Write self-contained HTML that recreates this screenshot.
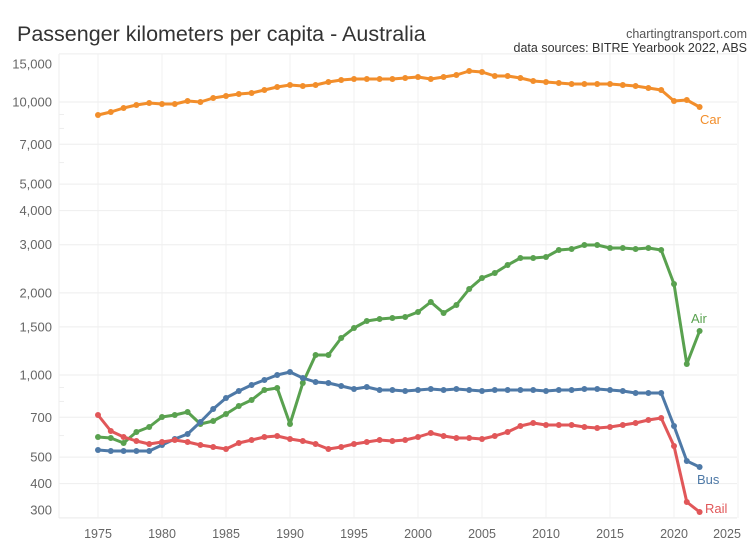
<!DOCTYPE html>
<html><head><meta charset="utf-8"><style>
body{margin:0;background:#fff;}
svg{font-family:"Liberation Sans",sans-serif;display:block}
</style></head><body>
<svg id="s" width="750" height="560" xmlns="http://www.w3.org/2000/svg">
<rect width="750" height="560" fill="#fff"/>
<text x="17" y="41" font-size="21.5" fill="#333">Passenger kilometers per capita - Australia</text>
<text x="747" y="38" font-size="12.5" fill="#555" text-anchor="end">chartingtransport.com</text>
<text x="747" y="52" font-size="12.5" fill="#333" text-anchor="end">data sources: BITRE Yearbook 2022, ABS</text>
<g id="g"></g>
</svg>
<script>
var g=document.getElementById('g'),h='';
function X(y){return 98+(y-1975)*12.8;}
function Y(v){return 375-273*Math.log10(v/1000);}
[15000,10000,7000,5000,4000,3000,2000,1500,1000,700,500,400,300].forEach(function(v){
 var y=Y(v);h+='<line x1="59" x2="737" y1="'+y+'" y2="'+y+'" stroke="#eee"/>';
 var ly=y; if(v==300) ly=510; if(v==15000) ly=64;
 h+='<text x="52" y="'+(ly+4.5)+'" font-size="13" fill="#666" text-anchor="end">'+v.toLocaleString('en-US')+'</text>';});
[9000,8000,6000,900,800,600].forEach(function(v){var y=Y(v);h+='<line x1="59" x2="64" y1="'+y+'" y2="'+y+'" stroke="#eee"/>';});
h+='<line x1="59" x2="59" y1="54" y2="518" stroke="#eee"/><line x1="59" x2="737" y1="518" y2="518" stroke="#eee"/>';
for(var yr=1975;yr<=2025;yr+=5){var x=X(yr);h+='<line x1="'+x+'" x2="'+x+'" y1="54" y2="518" stroke="#f0f0f0"/>';
 h+='<text x="'+(yr==2025?727:x)+'" y="538" font-size="12.5" fill="#666" text-anchor="middle">'+yr+'</text>';}
var S={
car:['#f28e2b',[115,112,108,105,103,104,104,101,102,98,96,94,93,90,87,85,86,85,82,80,79,79,79,79,78,77,79,77,75,71,72,76,76,78,81,82,83,84,84,84,84,85,86,88,90,101,100,107]],
air:['#59a14f',[437,438,443,432,427,417,415,412,424,421,414,406,400,390,388,424,383,355,355,338,328,321,319,318,317,312,302,313,305,289,278,273,265,258,258,257,250,249,245,245,248,248,249,248,250,284,364,331]],
bus:['#4e79a7',[450,451,451,451,451,445,439,434,422,409,398,391,385,380,375,372,378,382,383,386,389,387,390,390,391,390,389,390,389,390,391,390,390,390,390,391,390,390,389,389,390,391,393,393,393,426,461,467]],
rail:['#e15759',[415,431,437,441,444,442,440,442,445,447,449,443,440,437,436,439,441,444,449,447,444,442,440,441,440,437,433,436,438,438,439,436,432,426,423,425,425,425,427,428,427,425,423,420,418,446,502,512]]};
for(var k in S){var c=S[k][0],d=S[k][1],p='';
 d.forEach(function(y,i){p+=(i?'L':'M')+X(1975+i)+' '+y;});
 h+='<path d="'+p+'" fill="none" stroke="'+c+'" stroke-width="3" stroke-linejoin="round"/>';
 d.forEach(function(y,i){h+='<circle cx="'+X(1975+i)+'" cy="'+y+'" r="3" fill="'+c+'"/>';});}
h+='<text x="700" y="124" font-size="13" fill="#f28e2b">Car</text>';
h+='<text x="691" y="323" font-size="13" fill="#59a14f">Air</text>';
h+='<text x="697" y="484" font-size="13" fill="#4e79a7">Bus</text>';
h+='<text x="705" y="513" font-size="13" fill="#e15759">Rail</text>';
g.innerHTML=h;
</script>
</body></html>
